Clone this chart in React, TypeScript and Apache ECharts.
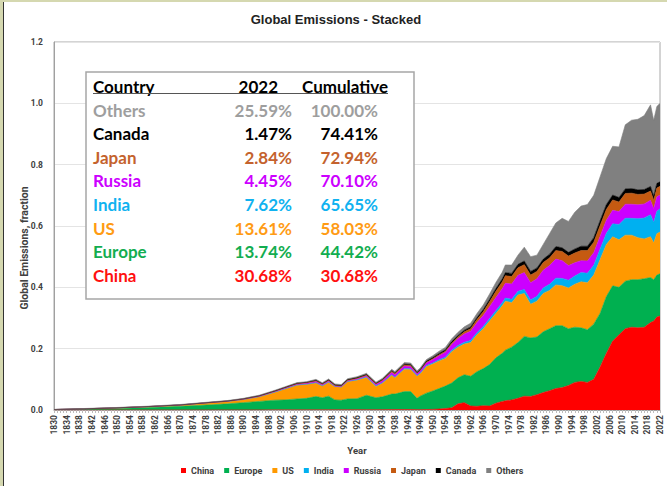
import React, { useEffect, useRef } from "react";
import * as echarts from "echarts";

// Category axis: every year from 1830 to 2022
const years: string[] = Array.from({ length: 193 }, (_, i) => String(1830 + i));

const sampleYears = [
  1830, 1840, 1850, 1860, 1870, 1880, 1885, 1890, 1895,
  1900, 1903, 1907, 1910, 1913, 1915, 1917, 1919, 1921, 1923,
  1926, 1929, 1932, 1934, 1937, 1938, 1941, 1943, 1945, 1946,
  1948, 1950, 1952, 1954, 1956, 1958, 1960, 1962, 1964, 1966,
  1968, 1970, 1972, 1973, 1975, 1977, 1979, 1981, 1983, 1985,
  1987, 1989, 1991, 1993, 1995, 1997, 1999, 2001, 2003, 2005,
  2007, 2009, 2011, 2013, 2015, 2017, 2019, 2020, 2021, 2022,
];

const china = [
  0, 0, 0, 0, 0, 0.0001, 0.0002, 0.0002, 0.0003,
  0.0005, 0.0005, 0.0005, 0.0006, 0.0007, 0.0007, 0.0008, 0.0008, 0.0008, 0.0009,
  0.001, 0.001, 0.001, 0.0012, 0.0013, 0.0013, 0.0015, 0.0015, 0.0012, 0.0012,
  0.0015, 0.002, 0.003, 0.005, 0.007, 0.02, 0.024, 0.013, 0.012, 0.014,
  0.013, 0.022, 0.028, 0.03, 0.033, 0.038, 0.045, 0.044, 0.05, 0.057,
  0.063, 0.07, 0.073, 0.08, 0.09, 0.093, 0.09, 0.1, 0.14, 0.185,
  0.225, 0.245, 0.265, 0.27, 0.268, 0.27, 0.285, 0.29, 0.303, 0.3068,
];
const europe = [
  0.001, 0.003, 0.005, 0.008, 0.012, 0.017, 0.0198, 0.0238, 0.0277,
  0.0315, 0.0325, 0.0355, 0.0374, 0.0433, 0.0393, 0.0442, 0.0322, 0.0312, 0.0351,
  0.036, 0.047, 0.039, 0.0418, 0.0507, 0.0507, 0.0585, 0.0585, 0.0368, 0.0438,
  0.0535, 0.06, 0.067, 0.073, 0.081, 0.085, 0.091, 0.097, 0.113, 0.121,
  0.135, 0.148, 0.157, 0.165, 0.172, 0.182, 0.195, 0.191, 0.188, 0.198,
  0.202, 0.205, 0.202, 0.185, 0.18, 0.175, 0.172, 0.18, 0.175, 0.185,
  0.18, 0.155, 0.155, 0.155, 0.157, 0.158, 0.147, 0.135, 0.137, 0.1374,
];
const us = [
  0.0005, 0.001, 0.002, 0.003, 0.004, 0.007, 0.008, 0.01, 0.015,
  0.026, 0.035, 0.045, 0.045, 0.044, 0.038, 0.045, 0.043, 0.042, 0.056,
  0.06, 0.058, 0.037, 0.044, 0.061, 0.053, 0.073, 0.072, 0.072, 0.073,
  0.087, 0.088, 0.09, 0.09, 0.102, 0.1, 0.1, 0.11, 0.12, 0.13,
  0.142, 0.145, 0.155, 0.16, 0.145, 0.155, 0.14, 0.11, 0.117, 0.125,
  0.125, 0.133, 0.13, 0.133, 0.14, 0.15, 0.153, 0.16, 0.175, 0.17,
  0.16, 0.155, 0.15, 0.145, 0.137, 0.13, 0.133, 0.12, 0.135, 0.1361,
];
const india = [
  0, 0, 0, 0, 0.0001, 0.0002, 0.0002, 0.0003, 0.0004,
  0.0005, 0.0006, 0.0008, 0.001, 0.0012, 0.0012, 0.0013, 0.0013, 0.0013, 0.0014,
  0.0015, 0.0016, 0.0016, 0.0017, 0.0019, 0.002, 0.0022, 0.0023, 0.0023, 0.0023,
  0.003, 0.0035, 0.004, 0.0042, 0.0045, 0.005, 0.0058, 0.0065, 0.007, 0.0075,
  0.008, 0.009, 0.0095, 0.01, 0.011, 0.012, 0.013, 0.014, 0.016, 0.018,
  0.02, 0.022, 0.024, 0.025, 0.027, 0.03, 0.031, 0.032, 0.034, 0.036,
  0.042, 0.05, 0.055, 0.055, 0.062, 0.068, 0.072, 0.067, 0.073, 0.0762,
];
const russia = [
  0, 0, 0.0001, 0.0002, 0.0003, 0.0005, 0.0007, 0.001, 0.0015,
  0.002, 0.0022, 0.0025, 0.003, 0.004, 0.0035, 0.003, 0.001, 0.001, 0.0015,
  0.0025, 0.0035, 0.0045, 0.0055, 0.0075, 0.008, 0.008, 0.007, 0.006, 0.007,
  0.009, 0.011, 0.013, 0.016, 0.019, 0.023, 0.027, 0.03, 0.033, 0.036,
  0.039, 0.043, 0.046, 0.048, 0.05, 0.052, 0.055, 0.056, 0.057, 0.058,
  0.061, 0.062, 0.058, 0.048, 0.043, 0.039, 0.04, 0.041, 0.042, 0.043,
  0.044, 0.042, 0.046, 0.046, 0.045, 0.046, 0.047, 0.044, 0.047, 0.0445,
];
const japan = [
  0, 0, 0, 0, 0, 0.0001, 0.0002, 0.0004, 0.0007,
  0.001, 0.0012, 0.0014, 0.0016, 0.0018, 0.0018, 0.002, 0.002, 0.002, 0.0022,
  0.0025, 0.0028, 0.0026, 0.003, 0.0036, 0.0038, 0.004, 0.004, 0.0015, 0.0015,
  0.002, 0.0025, 0.003, 0.0035, 0.0045, 0.005, 0.007, 0.0085, 0.01, 0.012,
  0.016, 0.02, 0.022, 0.025, 0.024, 0.025, 0.026, 0.025, 0.024, 0.025,
  0.025, 0.028, 0.03, 0.031, 0.032, 0.033, 0.034, 0.034, 0.035, 0.035,
  0.034, 0.031, 0.035, 0.036, 0.034, 0.032, 0.03, 0.028, 0.029, 0.0284,
];
const canada = [
  0, 0.0001, 0.0002, 0.0003, 0.0004, 0.0005, 0.0006, 0.0008, 0.0009,
  0.001, 0.0012, 0.0016, 0.0018, 0.002, 0.0015, 0.002, 0.0017, 0.0017, 0.002,
  0.0021, 0.0023, 0.0016, 0.0018, 0.0021, 0.002, 0.0025, 0.003, 0.003, 0.003,
  0.0035, 0.004, 0.0045, 0.0045, 0.005, 0.0052, 0.0055, 0.006, 0.0065, 0.007,
  0.008, 0.009, 0.0095, 0.01, 0.0105, 0.011, 0.012, 0.012, 0.011, 0.011,
  0.012, 0.013, 0.012, 0.012, 0.013, 0.014, 0.014, 0.015, 0.016, 0.016,
  0.016, 0.015, 0.015, 0.015, 0.015, 0.015, 0.015, 0.014, 0.015, 0.0147,
];
const others = [
  0.0005, 0.0009, 0.001, 0.001, 0.0012, 0.0012, 0.0013, 0.0015, 0.0018,
  0.002, 0.002, 0.002, 0.002, 0.003, 0.003, 0.003, 0.003, 0.003, 0.003,
  0.003, 0.0035, 0.0035, 0.004, 0.0045, 0.0045, 0.005, 0.005, 0.005, 0.005,
  0.005, 0.006, 0.007, 0.008, 0.009, 0.01, 0.011, 0.012, 0.013, 0.015,
  0.017, 0.02, 0.022, 0.025, 0.027, 0.03, 0.045, 0.048, 0.042, 0.048,
  0.067, 0.077, 0.096, 0.101, 0.12, 0.131, 0.136, 0.138, 0.143, 0.15,
  0.159, 0.165, 0.209, 0.223, 0.23, 0.241, 0.266, 0.247, 0.251, 0.2559,
];

const seriesNames = ["China", "Europe", "US", "India", "Russia", "Japan", "Canada", "Others"];
const seriesValues = [china, europe, us, india, russia, japan, canada, others];
const seriesColors = ["#FF0000", "#00B050", "#FF9900", "#00B0F0", "#CC00FF", "#C55A11", "#000000", "#808080"];

// Inset table
const tableCountries = ["Others", "Canada", "Japan", "Russia", "India", "US", "Europe", "China"];
const table2022 = ["25.59%", "1.47%", "2.84%", "4.45%", "7.62%", "13.61%", "13.74%", "30.68%"];
const tableCumulative = ["100.00%", "74.41%", "72.94%", "70.10%", "65.65%", "58.03%", "44.42%", "30.68%"];
const tableColors = ["#9E9E9E", "#000000", "#C4622D", "#CC00FF", "#10B2F0", "#FF9B14", "#12AD50", "#FF1010"];

const FONT = "Roboto, 'Liberation Sans', sans-serif";
const TFONT = "Lato, 'Open Sans', sans-serif";

export default function App() {
  const ref = useRef<HTMLDivElement>(null);
  useEffect(() => {
    document.body.style.margin = "0";
    const chart = echarts.init(ref.current!, undefined, { renderer: "svg" });

    const tableGraphics: any[] = [];
    tableGraphics.push({
      type: "rect",
      shape: { x: 86, y: 72, width: 328, height: 227 },
      style: { fill: "#FFFFFF", stroke: "#A6A6A6", lineWidth: 1.5 },
      z: 10,
    });
    const head = (text: string, x: number, align: string) => ({
      type: "text",
      x,
      y: 86,
      z: 11,
      style: { text, fill: "#000", font: `bold 17px ${TFONT}`, textAlign: align, textVerticalAlign: "middle" },
    });
    tableGraphics.push(head("Country", 93, "left"));
    tableGraphics.push(head("2022", 278, "right"));
    tableGraphics.push(head("Cumulative", 388, "right"));
    tableGraphics.push({
      type: "line",
      z: 11,
      shape: { x1: 93, y1: 93.5, x2: 388, y2: 93.5 },
      style: { stroke: "#555", lineWidth: 1 },
    });
    tableCountries.forEach((c, i) => {
      const y = 110 + i * 23.6;
      const st = (text: string, x: number, align: string) => ({
        type: "text",
        x,
        y,
        z: 11,
        style: { text, fill: tableColors[i], font: `bold 17px ${TFONT}`, textAlign: align, textVerticalAlign: "middle" },
      });
      tableGraphics.push(st(c, 93, "left"));
      tableGraphics.push(st(table2022[i], 292, "right"));
      tableGraphics.push(st(tableCumulative[i], 378, "right"));
    });

    const option: any = {
      animation: false,
      backgroundColor: "#FFFFFF",
      grid: {
        left: 54,
        right: 7,
        top: 42,
        bottom: 76,
        show: true,
        borderColor: "#A8A8A8",
        borderWidth: 1,
        backgroundColor: "#FFFFFF",
      },
      legend: {
        data: seriesNames,
        left: 181,
        top: 466,
        padding: 0,
        itemWidth: 5,
        itemHeight: 5,
        itemGap: 10,
        icon: "rect",
        textStyle: { fontSize: 9, fontWeight: "bold", color: "#404040", fontFamily: FONT },
      },
      xAxis: {
        type: "category",
        data: years,
        boundaryGap: false,
        axisLine: { lineStyle: { color: "#A0A0A0" } },
        axisTick: { show: true, interval: 0, length: 3, lineStyle: { color: "#BDBDBD" } },
        axisLabel: {
          interval: 3,
          rotate: 90,
          fontSize: 8.5,
          fontWeight: "bold",
          color: "#404040",
          margin: 5,
          fontFamily: FONT,
        },
        splitLine: { show: false },
        name: "Year",
        nameLocation: "middle",
        nameGap: 35,
        nameTextStyle: { fontSize: 9.5, fontWeight: "bold", color: "#404040", fontFamily: FONT },
      },
      yAxis: {
        type: "value",
        min: 0,
        max: 1.2,
        interval: 0.2,
        axisLine: { show: true, lineStyle: { color: "#A0A0A0" } },
        axisTick: { show: false },
        axisLabel: {
          formatter: (v: number) => v.toFixed(1),
          fontSize: 8.5,
          fontWeight: "bold",
          color: "#404040",
          margin: 11,
          fontFamily: FONT,
        },
        splitLine: { lineStyle: { color: "#E4E4E4" } },
      },
      series: seriesNames.map((name, k) => ({
        name,
        type: "line",
        stack: "total",
        symbol: "none",
        showSymbol: false,
        itemStyle: { color: seriesColors[k] },
        lineStyle: { width: 0.6, color: seriesColors[k] },
        areaStyle: { color: seriesColors[k], opacity: 1 },
        data: sampleYears.map((y, i) => [String(y), seriesValues[k][i]]),
      })),
      graphic: [
        {
          type: "text",
          x: 336,
          y: 19,
          style: {
            text: "Global Emissions - Stacked",
            fill: "#222",
            font: `bold 13px 'Liberation Sans', Arial, sans-serif`,
            textAlign: "center",
            textVerticalAlign: "middle",
          },
        },
        {
          type: "text",
          x: 24,
          y: 248,
          rotation: Math.PI / 2,
          style: {
            text: "Global Emissions, fraction",
            fill: "#404040",
            font: `bold 10.5px ${FONT}`,
            textAlign: "center",
            textVerticalAlign: "middle",
          },
        },
        { type: "rect", shape: { x: 0, y: 0, width: 3, height: 486 }, style: { fill: "#D5D8B0" } },
        { type: "rect", shape: { x: 0, y: 0, width: 667, height: 2 }, style: { fill: "#D5D8B0" } },
        { type: "line", shape: { x1: 3.5, y1: 2, x2: 3.5, y2: 486 }, style: { stroke: "#333", lineWidth: 1 } },
        ...tableGraphics,
      ],
    };
    chart.setOption(option);
    return () => chart.dispose();
  }, []);
  return <div ref={ref} style={{ width: 667, height: 486 }} />;
}
